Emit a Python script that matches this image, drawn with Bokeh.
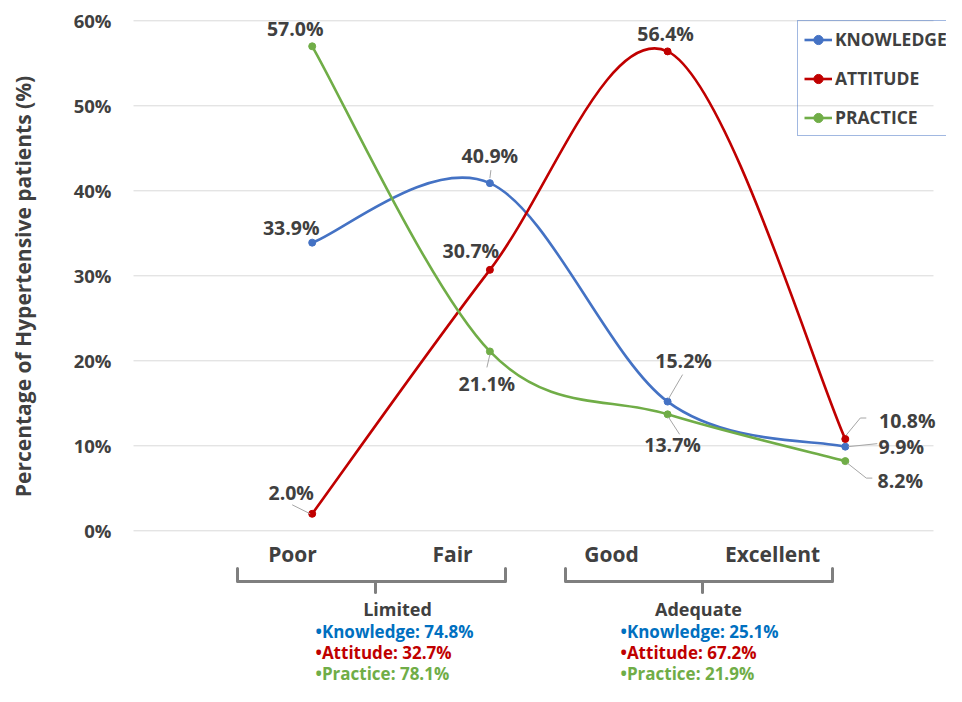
import math
from bokeh.plotting import figure
from bokeh.models import Range1d, Legend, LegendItem
from bokeh.core.properties import value
from bokeh.embed import file_html
from bokeh.resources import INLINE

# ---------------- data ----------------
categories = ["Poor", "Fair", "Good", "Excellent"]
knowledge = [33.9, 40.9, 15.2, 9.9]
attitude = [2.0, 30.7, 56.4, 10.8]
practice = [57.0, 21.1, 13.7, 8.2]
y_ticks = [0, 10, 20, 30, 40, 50, 60]
groups = ["Limited", "Adequate"]
group_knowledge = [74.8, 25.1]
group_attitude = [32.7, 67.2]
group_practice = [78.1, 21.9]

# ---------------- layout (reference pixel geometry) ----------------
W, H = 946, 686
PX = 177.7          # px per category step
PY = 8.5            # px per percent
X0_REF, Y0_REF = 311.7, 530.3   # pixel position of (0, 0%)

def X(px):
    return (px - X0_REF) / PX

def Y(py):
    return (Y0_REF - py) / PY

FONT = value("Open Sans")
DARK = "#404040"
C_K, C_A, C_P = "#4472C4", "#C00000", "#70AD47"
T_K, T_A, T_P = "#0070C0", "#C00000", "#70AD47"

p = figure(width=W, height=H, output_backend="svg", toolbar_location=None,
           x_range=Range1d(X(0), X(W)),
           y_range=Range1d(Y(H), Y(0)),
           min_border=0, x_axis_location=None, y_axis_location=None)
p.outline_line_color = None
p.grid.visible = False
p.background_fill_color = "white"

# gridlines
p.segment(x0=[X(133)] * len(y_ticks), x1=[X(933)] * len(y_ticks),
          y0=y_ticks, y1=y_ticks, line_color="#D9D9D9", line_width=1)
# y tick labels
p.text(x=[X(111)] * len(y_ticks), y=y_ticks, text=[f"{t}%" for t in y_ticks],
       text_font=FONT, text_font_style="bold", text_font_size="18.5px",
       text_color=DARK, text_align="right", text_baseline="middle")
# y title
p.text(x=[X(22)], y=[Y(286)], text=["Percentage of Hypertensive patients (%)"],
       angle=math.pi / 2, text_font=FONT, text_font_style="bold",
       text_font_size="21px", text_color="#404040",
       text_align="center", text_baseline="middle")

xs = list(range(len(categories)))

def smooth(ys):
    n = len(ys)
    out = dict(x0=[], y0=[], x1=[], y1=[], cx0=[], cy0=[], cx1=[], cy1=[])
    for i in range(n - 1):
        a = i - 1 if i > 0 else i
        d = i + 2 if i + 2 < n else i + 1
        out["x0"].append(xs[i]); out["y0"].append(ys[i])
        out["x1"].append(xs[i + 1]); out["y1"].append(ys[i + 1])
        out["cx0"].append(xs[i] + (xs[i + 1] - xs[a]) / 6)
        out["cy0"].append(ys[i] + (ys[i + 1] - ys[a]) / 6)
        out["cx1"].append(xs[i + 1] - (xs[d] - xs[i]) / 6)
        out["cy1"].append(ys[i + 1] - (ys[d] - ys[i]) / 6)
    return out

items = []
series = [("KNOWLEDGE", knowledge, C_K), ("ATTITUDE", attitude, C_A),
          ("PRACTICE", practice, C_P)]
for name, ys, col in series:
    b = p.bezier(**smooth(ys), line_color=col, line_width=2.6)
    s = p.scatter(xs, ys, size=7, fill_color=col, line_color=col)
    items.append(LegendItem(label=name, renderers=[b, s]))

# data labels: offsets in screen px from each point (label centre)
label_off = {
    "k": [(-21, -15), (0, -28), (16, -41), (56, 0)],
    "a": [(-21, -21), (-19, -19), (-2, -18), (62, -19)],
    "p": [(-17, -18), (-3, 32), (5, 30), (55, 19)],
}
leaders = {
    "k": [None, [(0, -5), (1, -13)], [(1, -3), (15, -27)], [(3, 0), (32, -3)]],
    "a": [[(-2, 0), (-20, -9)], None, None, [(1, -4), (15, -21), (21, -21)]],
    "p": [None, [(0, 3), (-3, 16)], [(1, 3), (12, 20)], [(2, 2), (21, 17), (27, 17)]],
}
for key, ys in (("k", knowledge), ("a", attitude), ("p", practice)):
    offs = label_off[key]
    p.text(x=xs, y=ys, text=[f"{v:.1f}%" for v in ys],
           x_offset=[o[0] for o in offs], y_offset=[o[1] for o in offs],
           text_font=FONT, text_font_style="bold", text_font_size="19.5px",
           text_color=DARK, text_align="center", text_baseline="middle")
    mx, my = [], []
    for i, ld in enumerate(leaders[key]):
        if ld is None:
            continue
        mx.append([xs[i] + dx / PX for dx, dy in ld])
        my.append([ys[i] - dy / PY for dx, dy in ld])
    if mx:
        p.multi_line(mx, my, line_color="#A6A6A6", line_width=1)

# legend
legend = Legend(items=items, location=(797, H - 136),
                orientation="vertical", padding=6, spacing=15, margin=0,
                label_height=23, glyph_height=23, glyph_width=28,
                label_standoff=3, label_text_font="Open Sans",
                label_text_font_style="bold", label_text_font_size="17.5px",
                label_text_color=DARK, border_line_color=C_K,
                border_line_width=1.5, background_fill_alpha=0)
p.add_layout(legend)

# category labels
cat_px = [292, 452, 611, 772]
p.text(x=[X(v) for v in cat_px], y=[Y(553)] * 4, text=categories,
       text_font=FONT, text_font_style="bold", text_font_size="21px",
       text_color=DARK, text_align="center", text_baseline="middle")

# brackets
brackets = [(237, 505, 375), (565, 832, 702)]
bx, by = [], []
for l, r, c in brackets:
    bx.append([X(l), X(l), X(r), X(r)])
    by.append([Y(568), Y(581), Y(581), Y(568)])
    bx.append([X(c), X(c)])
    by.append([Y(581), Y(592)])
p.multi_line(bx, by, line_color="#7F7F7F", line_width=3, line_join="round",
             line_cap="round")

# group titles and bullet lists
grp_center = [397, 698]
grp_left = [315, 620]
p.text(x=[X(v) for v in grp_center], y=[Y(608)] * 2, text=groups,
       text_font=FONT, text_font_style="bold", text_font_size="18px",
       text_color=DARK, text_align="center", text_baseline="middle")
rows = [("Knowledge", group_knowledge, T_K, 631),
        ("Attitude", group_attitude, T_A, 652),
        ("Practice", group_practice, T_P, 673)]
for nm, vals, col, ypx in rows:
    p.text(x=[X(v) for v in grp_left], y=[Y(ypx)] * 2,
           text=[f"\u2022{nm}: {v:.1f}%" for v in vals],
           text_font=FONT, text_font_style="bold", text_font_size="17px",
           text_color=col, text_align="left", text_baseline="middle")

open("out.html", "w").write(file_html(p, INLINE))
